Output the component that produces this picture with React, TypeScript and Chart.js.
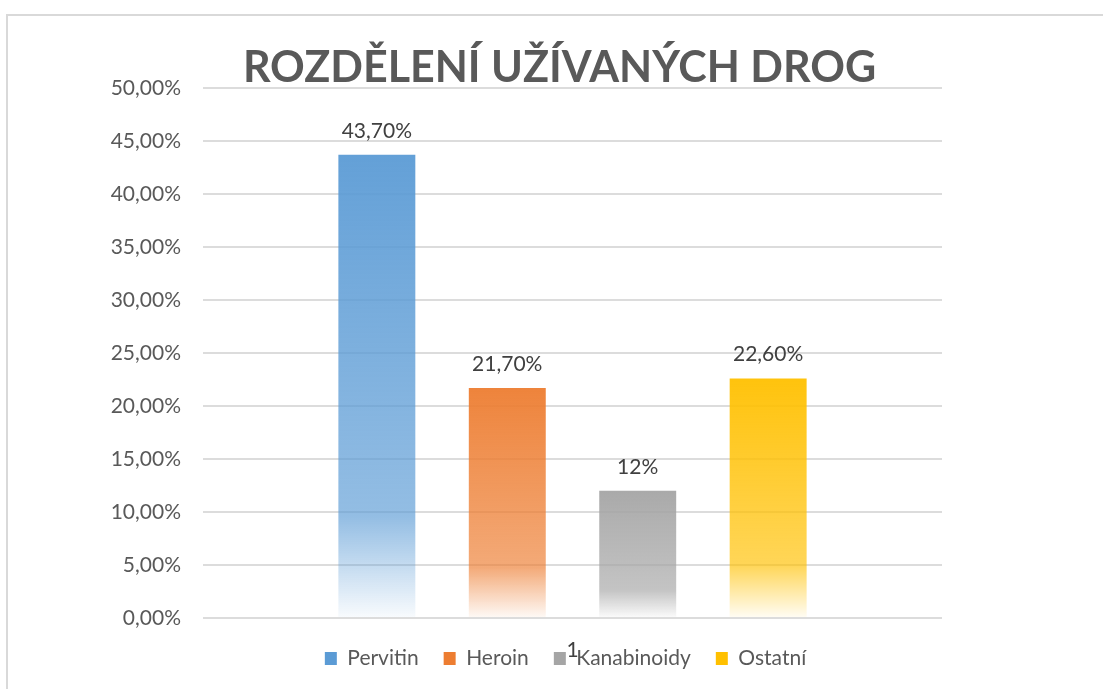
import React, { useEffect, useRef } from "react";
import { Chart, registerables } from "chart.js";

Chart.register(...registerables);

const categories = ["1"];
const seriesNames = ["Pervitin", "Heroin", "Kanabinoidy", "Ostatní"];
const seriesValues = [43.7, 21.7, 12, 22.6];
const valueLabels = ["43,70%", "21,70%", "12%", "22,60%"];
const seriesColors = [
  [91, 155, 213],
  [237, 125, 49],
  [165, 165, 165],
  [255, 192, 0],
];
const yMin = 0;
const yMax = 50;
const yStep = 5;
const titleText = "ROZDĚLENÍ UŽÍVANÝCH DROG";

const FONT = "Lato";

function rgba(c: number[], a: number) {
  return `rgba(${c[0]},${c[1]},${c[2]},${a})`;
}

const valueLabelPlugin = {
  id: "valueLabels",
  afterDatasetsDraw(chart: any) {
    const ctx = chart.ctx;
    ctx.save();
    ctx.font = `21px ${FONT}`;
    ctx.fillStyle = "#404040";
    ctx.textAlign = "center";
    ctx.textBaseline = "alphabetic";
    chart.data.datasets.forEach((ds: any, i: number) => {
      const meta = chart.getDatasetMeta(i);
      meta.data.forEach((el: any) => {
        ctx.fillText(ds.valueLabel, el.x, el.y - 17);
      });
    });
    ctx.restore();
  },
};

// Adjust boxes after layout: shift the title and legend slightly left, and let the
// category axis labels overlap the legend as in the original chart.
const layoutTweakPlugin = {
  id: "layoutTweak",
  afterLayout(chart: any) {
    const t = chart.titleBlock;
    if (t) {
      t.left -= 13;
      t.right -= 13;
    }
    const lg = chart.legend;
    if (lg) {
      lg.left -= 7;
      lg.right -= 7;
    }
    const x = chart.scales.x;
    if (x) {
      x.bottom = x.top + 50;
      x.height = 50;
    }
  },
};

export default function App() {
  const canvasRef = useRef<HTMLCanvasElement | null>(null);

  useEffect(() => {
    document.body.style.margin = "0";
    const canvas = canvasRef.current;
    if (!canvas) return;
    const chart = new Chart(canvas, {
      type: "bar",
      data: {
        labels: categories,
        datasets: seriesNames.map((name, i) => ({
          label: name,
          data: [seriesValues[i]],
          valueLabel: valueLabels[i],
          backgroundColor: (context: any) => {
            const col = seriesColors[i];
            if (context.type !== "data") return rgba(col, 1);
            const c = context.chart;
            const ys = c.scales.y;
            if (!ys || !c.chartArea) return rgba(col, 1);
            const top = ys.getPixelForValue(context.raw);
            const bottom = ys.getPixelForValue(0);
            if (!isFinite(top) || !isFinite(bottom) || top === bottom) return rgba(col, 1);
            const g = c.ctx.createLinearGradient(0, top, 0, bottom);
            g.addColorStop(0, rgba(col, 0.95));
            g.addColorStop(0.78, rgba(col, 0.66));
            g.addColorStop(1, rgba(col, 0.04));
            return g;
          },
          borderWidth: 0,
          categoryPercentage: 0.706,
          barPercentage: 0.59,
        })) as any,
      },
      options: {
        animation: false,
        responsive: true,
        maintainAspectRatio: false,
        layout: { padding: { left: 0, right: 161, top: 0, bottom: 10 } },
        plugins: {
          title: {
            display: true,
            text: titleText,
            color: "#595959",
            font: { family: FONT, size: 43, weight: "bold", lineHeight: 0.93 },
            padding: { top: 48, bottom: 0 },
            fullSize: false,
          },
          legend: {
            display: true,
            position: "bottom",
            fullSize: false,
            labels: {
              color: "#595959",
              font: { family: FONT, size: 21 },
              boxWidth: 12,
              boxHeight: 13,
              padding: 25,
              generateLabels: (chart: any) =>
                chart.data.datasets.map((ds: any, i: number) => ({
                  text: ds.label,
                  fillStyle: rgba(seriesColors[i], 1),
                  strokeStyle: rgba(seriesColors[i], 1),
                  lineWidth: 0,
                  hidden: !chart.isDatasetVisible(i),
                  datasetIndex: i,
                  fontColor: "#595959",
                })),
            },
          },
          tooltip: { enabled: false },
        },
        scales: {
          x: {
            grid: { display: false, drawTicks: false },
            border: { display: false },
            ticks: { color: "#404040", font: { family: FONT, size: 21 }, padding: 20 },
            afterFit: (scale: any) => {
              scale.height = 5;
            },
          },
          y: {
            min: yMin,
            max: yMax,
            grid: { color: "#dcdcdc", lineWidth: 2, drawTicks: false },
            border: { display: false },
            ticks: {
              stepSize: yStep,
              color: "#595959",
              font: { family: FONT, size: 21 },
              padding: 22,
              callback: (v: any) => Number(v).toFixed(2).replace(".", ",") + "%",
            },
            afterFit: (scale: any) => {
              scale.width = 203;
            },
          },
        },
      },
      plugins: [valueLabelPlugin, layoutTweakPlugin],
    });
    return () => chart.destroy();
  }, []);

  return (
    <div style={{ position: "fixed", left: 0, top: 0, width: 1103, height: 689, background: "#fff", overflow: "hidden" }}>
      <div
        style={{
          position: "absolute",
          left: 6,
          top: 14,
          width: 1200,
          height: 800,
          borderLeft: "2px solid #d9d9d9",
          borderTop: "2px solid #d9d9d9",
        }}
      />
      <div style={{ position: "absolute", left: 0, top: 0, width: 1103, height: 689 }}>
        <canvas ref={canvasRef} />
      </div>
    </div>
  );
}
